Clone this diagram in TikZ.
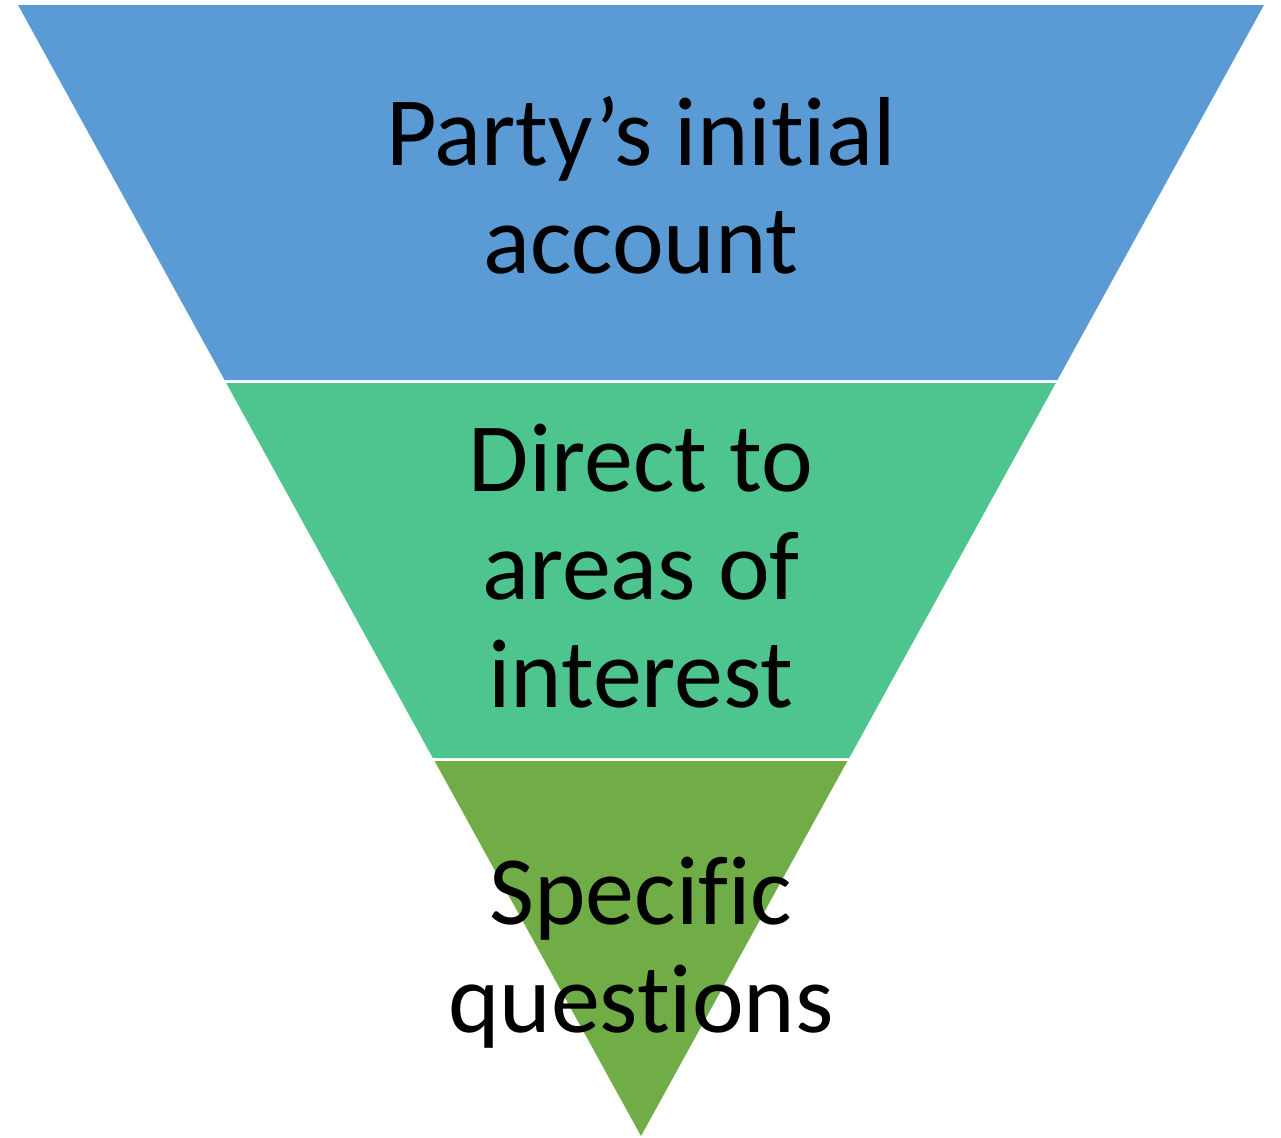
\documentclass[tikz,border=0pt]{standalone}
\usepackage{fontspec}
\setmainfont[Ligatures={TeX,NoCommon}]{Carlito}
\usetikzlibrary{positioning}
\definecolor{bandblue}{HTML}{5B9BD5}
\definecolor{bandteal}{HTML}{4EC58E}
\definecolor{bandgreen}{HTML}{70AD47}

\begin{document}
\begin{tikzpicture}[x=0.5pt,y=-0.5pt,
    band/.style={draw=none},
    bandtext/.style={anchor=base,align=center,inner sep=0pt,
      font=\fontsize{49}{54}\selectfont}]
    \useasboundingbox (0,0) rectangle (1281,1137);

    % draw bands of the funnel
    \fill[band,bandblue] (18,5) -- (1264,5) -- (1057.4,380) -- (224.6,380) -- cycle;
    \fill[band,bandteal] (226.2,383) -- (1055.8,383) -- (849.2,758) -- (432.8,758) -- cycle;
    \fill[band,bandgreen] (434.6,761) -- (847.4,761) -- (641,1136) -- cycle;

    % draw labels (base = last line)
    \node[bandtext] (account) at (641,273) {Party’s initial\\account};
    \node[bandtext] (direct) at (641,707) {Direct to\\areas of\\interest};
    \node[bandtext] (questions) at (641,1032) {Specific\\questions};
\end{tikzpicture}
\end{document}
